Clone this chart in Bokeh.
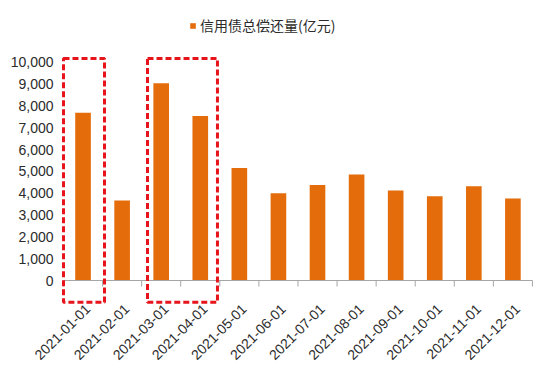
import math
from bokeh.plotting import figure
from bokeh.models import (ColumnDataSource, Range1d, FixedTicker,
                          NumeralTickFormatter, BoxAnnotation, Legend, LegendItem)
from bokeh.embed import file_html
from bokeh.resources import INLINE

months = ["2021-01-01", "2021-02-01", "2021-03-01", "2021-04-01", "2021-05-01", "2021-06-01",
          "2021-07-01", "2021-08-01", "2021-09-01", "2021-10-01", "2021-11-01", "2021-12-01"]
values = [7680, 3660, 9040, 7530, 5150, 4000, 4380, 4850, 4120, 3860, 4320, 3760]
series_name = "信用债总偿还量(亿元)"
y_ticks = [0, 1000, 2000, 3000, 4000, 5000, 6000, 7000, 8000, 9000, 10000]

n = len(months)
centers = [i + 0.5 for i in range(n)]          # category slot centres
boundaries = list(range(0, n + 1))             # category slot edges
label_shift = 0.12                             # labels sit slightly right of the slot centre
label_ticks = [c + label_shift for c in centers]

bar_color = "#E46C0A"
text_color = "#2b2b2b"
axis_color = "#a6a6a6"

p = figure(width=545, height=372,
           x_range=Range1d(-1.612, 12.334), y_range=Range1d(-4214, 12826),
           output_backend="svg", toolbar_location=None,
           min_border_left=0, min_border_right=0, min_border_top=0, min_border_bottom=0)
p.outline_line_color = None
p.xgrid.grid_line_color = None
p.ygrid.grid_line_color = None

src = ColumnDataSource(dict(x=centers, month=months, value=values))
bars = p.vbar(x="x", top="value", width=0.4, source=src, fill_color=bar_color, line_color=None)

# boundary tick marks below the category axis
tsrc = ColumnDataSource(dict(x=boundaries, y0=[0] * len(boundaries), y1=[-275] * len(boundaries)))
p.segment(x0="x", y0="y0", x1="x", y1="y1", source=tsrc, line_color=axis_color, line_width=1)

# x axis drawn at y = 0 inside the frame
p.xaxis.fixed_location = 0
p.xaxis.bounds = (0, n)
p.xaxis.ticker = FixedTicker(ticks=label_ticks)
p.xaxis.major_label_overrides = {t: m for t, m in zip(label_ticks, months)}
p.xaxis.axis_line_color = axis_color
p.xaxis.major_tick_line_color = None
p.xaxis.minor_tick_line_color = None
p.xaxis.major_tick_out = 0
p.xaxis.major_tick_in = 0
p.xaxis.major_label_orientation = math.pi / 4
p.xaxis.major_label_standoff = 26
p.xaxis.major_label_text_font = "Liberation Sans"
p.xaxis.major_label_text_font_size = "14px"
p.xaxis.major_label_text_color = text_color

# y axis drawn at the left edge of the category area
p.yaxis.fixed_location = 0
p.yaxis.ticker = FixedTicker(ticks=y_ticks)
p.yaxis.formatter = NumeralTickFormatter(format="0,0")
p.yaxis.axis_line_color = None
p.yaxis.major_tick_line_color = None
p.yaxis.minor_tick_line_color = None
p.yaxis.major_tick_out = 0
p.yaxis.major_tick_in = 0
p.yaxis.major_label_standoff = 10
p.yaxis.major_label_text_font = "Liberation Sans"
p.yaxis.major_label_text_font_size = "14px"
p.yaxis.major_label_text_color = text_color

# dashed highlight boxes
for l, r in [(0.0, 1.05), (2.15, 3.94)]:
    p.add_layout(BoxAnnotation(left=l, right=r, bottom=-1000, top=10170,
                               fill_alpha=0, fill_color=None, line_color="#E8141B",
                               line_width=3, line_dash="6 3", line_alpha=1))

legend = Legend(items=[LegendItem(label=series_name, renderers=[bars])],
                location=(189, 337), orientation="horizontal",
                border_line_color=None, background_fill_alpha=0,
                padding=0, margin=0, spacing=0,
                glyph_width=7, glyph_height=7, label_standoff=4,
                label_text_font="Noto Sans CJK SC", label_text_font_size="14px",
                label_text_color=text_color)
p.add_layout(legend)

open("out.html", "w").write(file_html(p, INLINE))
